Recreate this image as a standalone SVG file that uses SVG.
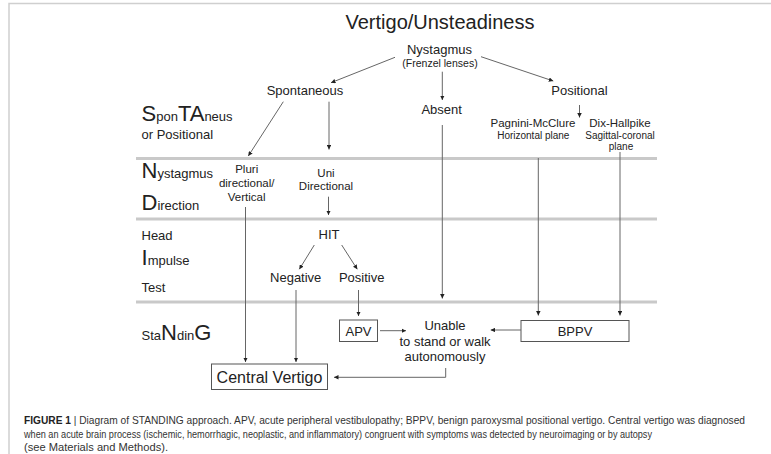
<svg xmlns="http://www.w3.org/2000/svg" width="771" height="454" viewBox="0 0 771 454">
<defs>
<style>
text{font-family:"Liberation Sans",Arial,sans-serif;fill:#222;}
.t13{font-size:13px;}
.c{text-anchor:middle;}
.sep{stroke:#c9c9c9;stroke-width:3;fill:none;}
.frame{stroke:#cfcfcf;stroke-width:1.5;fill:none;}
.ln{stroke:#666;stroke-width:1;fill:none;marker-end:url(#ah);}
.box{fill:#fff;stroke:#555;stroke-width:1;}
.cap{font-size:10.2px;fill:#333;}
</style>
<marker id="ah" viewBox="0 0 6 6" refX="6" refY="3" markerWidth="4.5" markerHeight="4.5" markerUnits="userSpaceOnUse" orient="auto">
<path d="M0,0 L6,3 L0,6 z" fill="#222"/>
</marker>
</defs>
<rect width="771" height="454" fill="#fff"/>
<path class="frame" d="M9,454 V3.5 H771"/>
<g id="separators">
<line class="sep" x1="136" y1="158.5" x2="657" y2="158.5"/>
<line class="sep" x1="136" y1="219" x2="657" y2="219"/>
<line class="sep" x1="136" y1="302" x2="657" y2="302"/>
</g>
<g id="row-labels">
<text x="141.5" y="121"><tspan font-size="22">S</tspan><tspan font-size="13">pon</tspan><tspan font-size="22">TA</tspan><tspan font-size="13">neus</tspan></text>
<text x="141.5" y="138.5" class="t13">or Positional</text>
<text x="141.5" y="178"><tspan font-size="22">N</tspan><tspan font-size="13">ystagmus</tspan></text>
<text x="141.5" y="210"><tspan font-size="22">D</tspan><tspan font-size="13">irection</tspan></text>
<text x="141.5" y="239.5" class="t13">Head</text>
<text x="141.5" y="265"><tspan font-size="22">I</tspan><tspan font-size="13">mpulse</tspan></text>
<text x="141.5" y="291.5" class="t13">Test</text>
<text x="141.5" y="340"><tspan font-size="13">Sta</tspan><tspan font-size="22">N</tspan><tspan font-size="13">din</tspan><tspan font-size="22">G</tspan></text>
</g>
<g id="title"><text x="440" y="29" class="c" font-size="20">Vertigo/Unsteadiness</text></g>
<g id="nystagmus">
<text x="439.5" y="54" class="c t13">Nystagmus</text>
<text x="440" y="67" class="c" font-size="10.5">(Frenzel lenses)</text>
</g>
<g id="spontaneous"><text x="305" y="95" class="c t13">Spontaneous</text></g>
<g id="absent"><text x="441.7" y="114" class="c t13">Absent</text></g>
<g id="positional"><text x="579.5" y="95" class="c t13">Positional</text></g>
<g id="pagnini">
<text x="533" y="127" class="c" font-size="11.5">Pagnini-McClure</text>
<text x="533.3" y="139" class="c" font-size="10">Horizontal plane</text>
</g>
<g id="dixhallpike">
<text x="620" y="127" class="c" font-size="11.5">Dix-Hallpike</text>
<text x="620" y="138.5" class="c" font-size="10">Sagittal-coronal</text>
<text x="621" y="150" class="c" font-size="10">plane</text>
</g>
<g id="pluri">
<text x="246.7" y="173.3" class="c" font-size="11.5">Pluri</text>
<text x="246.7" y="187.3" class="c" font-size="11.5">directional/</text>
<text x="246.7" y="200.7" class="c" font-size="11.5">Vertical</text>
</g>
<g id="uni">
<text x="326" y="176.7" class="c" font-size="11.5">Uni</text>
<text x="326" y="190" class="c" font-size="11.5">Directional</text>
</g>
<g id="hit"><text x="329" y="239" class="c t13">HIT</text></g>
<g id="negative"><text x="295.7" y="281.7" class="c t13">Negative</text></g>
<g id="positive"><text x="361.7" y="281.7" class="c t13">Positive</text></g>
<g id="apv">
<rect class="box" x="339.5" y="320" width="38" height="21.5"/>
<text x="358.5" y="335.5" class="c t13">APV</text>
</g>
<g id="bppv">
<rect class="box" x="521" y="320.5" width="108" height="21"/>
<text x="575" y="335.5" class="c t13">BPPV</text>
</g>
<g id="unable">
<text x="445" y="330" class="c t13">Unable</text>
<text x="445" y="345.5" class="c t13">to stand or walk</text>
<text x="445" y="361" class="c t13">autonomously</text>
</g>
<g id="central">
<rect class="box" x="211.5" y="364" width="116" height="25.5"/>
<text x="269.5" y="383" class="c" font-size="16">Central Vertigo</text>
</g>
<g id="connectors">
<line class="ln" x1="395" y1="57.3" x2="331" y2="82.7"/>
<line class="ln" x1="481" y1="56.7" x2="553.3" y2="81"/>
<line class="ln" x1="442.3" y1="71.7" x2="442.3" y2="100"/>
<line class="ln" x1="579.5" y1="105" x2="579.5" y2="117.5"/>
<line class="ln" x1="283.3" y1="101.7" x2="248.3" y2="156"/>
<line class="ln" x1="329" y1="101.7" x2="329" y2="149.5"/>
<line class="ln" x1="245.5" y1="207" x2="245.5" y2="362"/>
<line class="ln" x1="328.5" y1="196.7" x2="328.5" y2="215"/>
<line class="ln" x1="314.3" y1="245" x2="299.3" y2="269.3"/>
<line class="ln" x1="341.7" y1="245" x2="357.3" y2="269.3"/>
<line class="ln" x1="296" y1="290" x2="296" y2="362"/>
<line class="ln" x1="358.5" y1="290" x2="358.5" y2="316"/>
<line class="ln" x1="442.3" y1="125" x2="442.3" y2="298.5"/>
<line class="ln" x1="538.3" y1="158" x2="538.3" y2="315.5"/>
<line class="ln" x1="620" y1="152" x2="620" y2="315.5"/>
<line class="ln" x1="380" y1="330.7" x2="406" y2="330.7"/>
<line class="ln" x1="521" y1="330" x2="490.7" y2="330"/>
<path class="ln" d="M445.7,368 V377.3 H334"/>
</g>
<g id="caption">
<text x="24" y="424" class="cap" textLength="721" lengthAdjust="spacingAndGlyphs"><tspan font-weight="bold" fill="#222">FIGURE 1</tspan> | Diagram of STANDING approach. APV, acute peripheral vestibulopathy; BPPV, benign paroxysmal positional vertigo. Central vertigo was diagnosed</text>
<text x="24" y="438" class="cap" textLength="628" lengthAdjust="spacingAndGlyphs">when an acute brain process (ischemic, hemorrhagic, neoplastic, and inflammatory) congruent with symptoms was detected by neuroimaging or by autopsy</text>
<text x="24" y="451" class="cap" textLength="144" lengthAdjust="spacingAndGlyphs">(see Materials and Methods).</text>
</g>
</svg>
